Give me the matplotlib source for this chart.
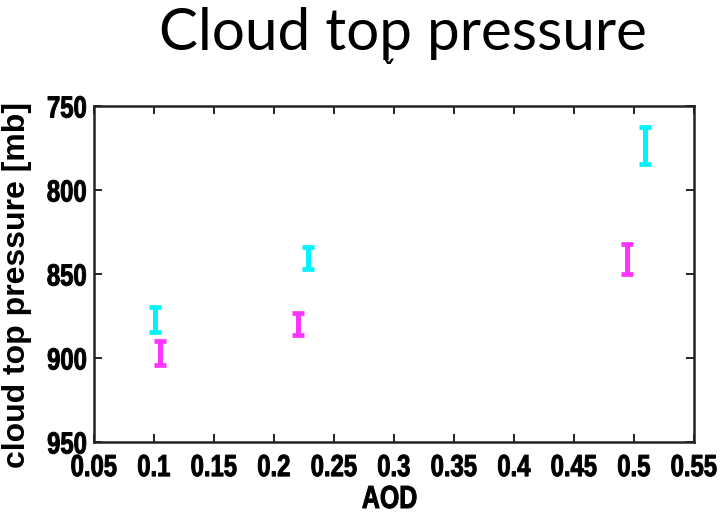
import numpy as np
import matplotlib.pyplot as plt
from matplotlib.patheffects import AbstractPathEffect
from matplotlib.transforms import Affine2D

# cyan series
cyan_aod = [0.101, 0.228, 0.509]
cyan_ctp = [877.0, 840.5, 773.5]
cyan_err = [7.5, 6.5, 11.0]

# magenta series
mag_aod = [0.105, 0.220, 0.494]
mag_ctp = [897.0, 880.0, 841.0]
mag_err = [7.0, 6.5, 9.0]

xticks = [0.05, 0.1, 0.15, 0.2, 0.25, 0.3, 0.35, 0.4, 0.45, 0.5, 0.55]
xtick_labels = ["0.05", "0.1", "0.15", "0.2", "0.25", "0.3", "0.35", "0.4", "0.45", "0.5", "0.55"]
yticks = [750, 800, 850, 900, 950]


# squeeze text horizontally + slight stroke (narrow heavy look)
class Squeeze(AbstractPathEffect):
    def __init__(self, sx=0.78, anchor='center', lw=0.7):
        super().__init__()
        self.sx = sx
        self.anchor = anchor
        self.lw = lw

    def draw_path(self, renderer, gc, tpath, affine, rgbFace=None):
        verts = affine.transform(tpath.vertices)
        if len(verts):
            x0, x1 = verts[:, 0].min(), verts[:, 0].max()
            xa = x1 if self.anchor == 'right' else (x0 + x1) / 2
            affine = affine + Affine2D().translate(-xa, 0).scale(self.sx, 1).translate(xa, 0)
        gc0 = renderer.new_gc()
        gc0.copy_properties(gc)
        gc0.set_linewidth(self.lw)
        if rgbFace is not None:
            gc0.set_foreground(rgbFace)
        renderer.draw_path(gc0, tpath, affine, rgbFace)
        gc0.restore()


fig = plt.figure(figsize=(7.21, 5.19), dpi=100)
ax = fig.add_axes([94 / 721, 77 / 519, 600 / 721, 336 / 519])

ax.errorbar(cyan_aod, cyan_ctp, yerr=cyan_err, fmt='none', ecolor='#00f4ff',
            elinewidth=3.6, capsize=4.5, capthick=3.4)
ax.errorbar(mag_aod, mag_ctp, yerr=mag_err, fmt='none', ecolor='#ff33ff',
            elinewidth=3.6, capsize=4.5, capthick=3.4)

ax.set_xlim(0.05, 0.55)
ax.set_ylim(950, 750)
ax.set_xticks(xticks)
ax.set_xticklabels(xtick_labels)
ax.set_yticks(yticks)

tick_font = dict(family='Liberation Sans', weight='bold', size=22)
for lab in ax.get_xticklabels():
    lab.set_fontproperties(tick_font)
    lab.set_path_effects([Squeeze(0.78, 'center')])
for lab in ax.get_yticklabels():
    lab.set_fontproperties(tick_font)
    lab.set_path_effects([Squeeze(0.78, 'right')])

ax.tick_params(direction='in', length=6, width=1.2, top=True, right=True)
ax.tick_params(axis='x', pad=8)
ax.tick_params(axis='y', pad=5)
for sp in ax.spines.values():
    sp.set_linewidth(1.8)
    sp.set_color('#222222')

ax.set_xlabel("AOD", fontsize=23, fontweight='bold', family='Liberation Sans',
              path_effects=[Squeeze(0.78, 'center')])
ax.xaxis.set_label_coords(0.493, -0.128)
ax.set_ylabel("cloud top pressure [mb]", fontsize=23, fontweight='bold', family='Liberation Sans')
ax.yaxis.set_label_coords(-0.103, 0.467)

fig.text(403 / 721, 1 - 33 / 519, "Cloud top pressure", ha='center', va='center',
         fontsize=42, family='Lato')
fig.text(388 / 721, 1 - 74 / 519, "\u02c7", ha='center', va='center', fontsize=20,
         fontweight='bold')

fig.savefig("out.png", dpi=100)
